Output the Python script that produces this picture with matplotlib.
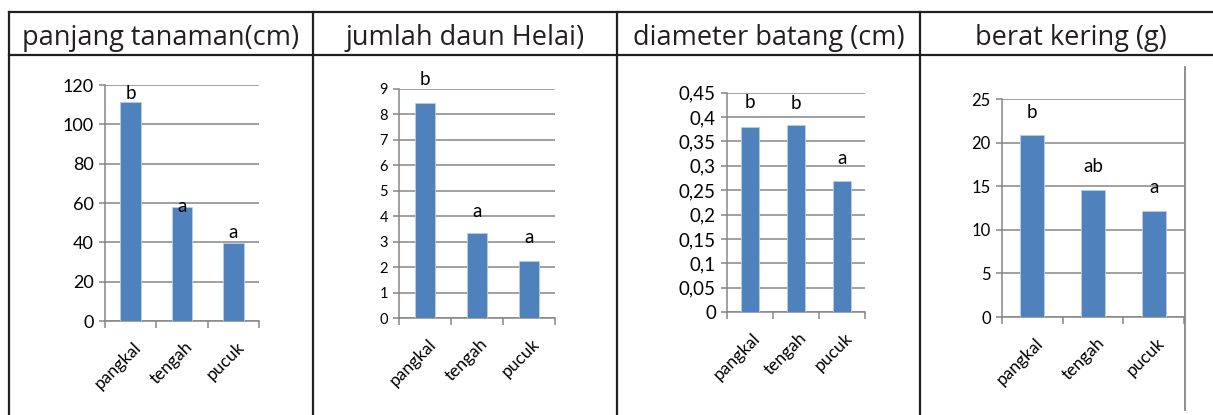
import numpy as np
import matplotlib.pyplot as plt
from matplotlib.lines import Line2D
from matplotlib.ticker import FuncFormatter

W, H = 1213, 415

kategori = ['pangkal', 'tengah', 'pucuk']
judul = ['panjang tanaman(cm)', 'jumlah daun Helai)', 'diameter batang (cm)', 'berat kering (g)']

panjang = [111.5, 58.0, 39.5]
daun = [8.46, 3.33, 2.25]
diameter = [0.380, 0.383, 0.268]
berat = [20.9, 14.6, 12.2]

notasi_panjang = ['b', 'a', 'a']
notasi_daun = ['b', 'a', 'a']
notasi_diameter = ['b', 'b', 'a']
notasi_berat = ['b', 'ab', 'a']

BAR = '#4f81bd'
GRID = '#868686'
INK = '#231f20'

fig = plt.figure(figsize=(W / 100, H / 100), dpi=100)
fig.patch.set_facecolor('white')


def px(x, y):
    # pixel (from top-left) -> figure fraction
    return x / W, 1 - y / H


def garis(x0, y0, x1, y1, **kw):
    a, b = px(x0, y0)
    c, d = px(x1, y1)
    fig.add_artist(Line2D([a, c], [b, d], transform=fig.transFigure, **kw))


# table frame
garis(9, 12, W, 12, color=INK, lw=1.6)
garis(9, 55, W, 55, color=INK, lw=1.6)
for xv in [9, 313, 617, 920]:
    garis(xv, 12, xv, H, color=INK, lw=1.6)

# header texts
for cx, t in zip([161, 465, 769, 1071], judul):
    a, b = px(cx, 45)
    fig.text(a, b, t, ha='center', va='baseline', fontsize=19.5,
             family='Open Sans', color=INK)

# (left, bottom, right, top) in pixels, values, letters, ymax, step, tick font, letter offsets(px)
panels = [
    ((105, 321, 259, 85), panjang, notasi_panjang, 120, 20, 13, [8, 0, 11]),
    ((399, 318, 555, 89), daun, notasi_daun, 9, 1, 10.5, [23, 22, 23]),
    ((727, 312, 865, 92.7), diameter, notasi_diameter, 0.45, 0.05, 13.5, [24, 22, 23]),
    ((1002, 317, 1184, 99.3), berat, notasi_berat, 25, 5, 12, [23, 23, 23]),
]

for (l, b, r, t), vals, notes, ymax, step, fs, offs in panels:
    ax = fig.add_axes([l / W, 1 - b / H, (r - l) / W, (b - t) / H])
    x = np.arange(len(kategori))
    ax.bar(x, vals, width=0.4, color=BAR, edgecolor='#b9cde5', linewidth=0.6, zorder=3)
    ax.set_xlim(-0.5, 2.5)
    ax.set_ylim(0, ymax)
    ticks = np.round(np.arange(0, ymax + step / 2, step), 4)
    ax.set_yticks(ticks)
    ax.yaxis.set_major_formatter(FuncFormatter(lambda v, p: ('%g' % round(v, 4)).replace('.', ',')))
    ax.yaxis.grid(True, color=GRID, lw=1.1, zorder=1)
    ax.set_axisbelow(True)
    for s in ['top', 'right']:
        ax.spines[s].set_visible(False)
    for s in ['left', 'bottom']:
        ax.spines[s].set_color(GRID)
        ax.spines[s].set_linewidth(1.1)
    ax.tick_params(axis='y', length=4, width=1.1, color=GRID, labelsize=fs, pad=4)
    ax.set_xticks(x + 0.05)
    ax.set_xticklabels(kategori, rotation=45, ha='right', rotation_mode='anchor',
                       fontsize=12.5, family='Lato')
    ax.tick_params(axis='x', which='major', length=0, pad=13)
    ax.set_xticks([-0.5, 0.5, 1.5, 2.5], minor=True)
    ax.tick_params(axis='x', which='minor', length=5, width=1.1, color=GRID)
    for lab in ax.get_yticklabels():
        lab.set_family('Lato')
    for xi, v, n, o in zip(x, vals, notes, offs):
        ax.annotate(n, (xi, v), xytext=(0, o), textcoords='offset pixels',
                    ha='center', va='center', fontsize=13.5, family='Lato', color='black')

# right edge line of last panel
garis(1185, 67, 1185, 410, color=GRID, lw=1.3)

fig.savefig('out.png', dpi=100)
